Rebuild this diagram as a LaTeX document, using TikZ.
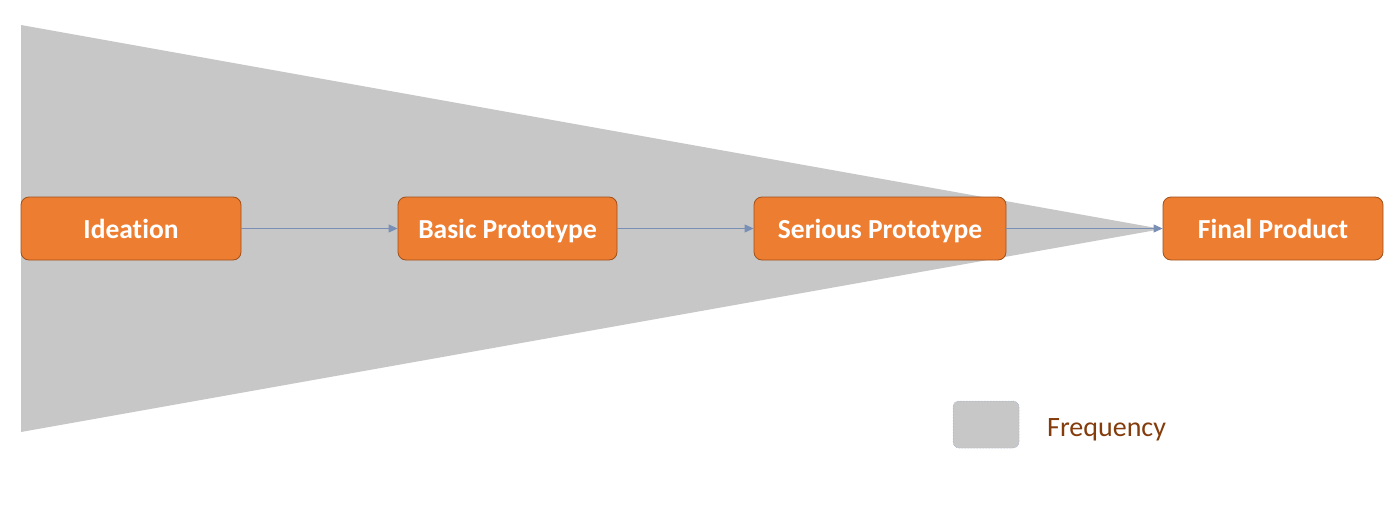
\documentclass[tikz,border=0pt]{standalone}
\usepackage{fontspec}
\setmainfont{Carlito}[Ligatures={NoCommon},Contextuals={NoAlternate}]
\usetikzlibrary{arrows.meta}
\definecolor{funnel}{RGB}{199,199,199}
\definecolor{boxfill}{RGB}{237,125,49}
\definecolor{boxline}{RGB}{160,80,25}
\definecolor{arrowc}{RGB}{122,143,182}
\definecolor{legtext}{RGB}{132,60,12}
\tikzset{
  stagebox/.style={draw=boxline, line width=0.8pt, fill=boxfill, rounded corners=8pt,
    minimum height=63pt, inner sep=0pt, text height=21pt, text depth=2pt, text=white,
    font=\fontsize{27.5}{32}\selectfont\bfseries},
  flow/.style={draw=arrowc, line width=1pt, -{Triangle[length=9pt,width=8pt]}}
}
\begin{document}
\begin{tikzpicture}[x=1pt,y=-1pt]
\useasboundingbox (0,0) rectangle (1400,530);
% funnel
\fill[funnel] (21,25) -- (1162,229) -- (21,432) -- cycle;
% stages
\node[stagebox, minimum width=220pt] (ide) at (131,228.5) {Ideation};
\node[stagebox, minimum width=219pt] (bas) at (507.5,228.5) {Basic Prototype};
\node[stagebox, minimum width=252pt] (ser) at (880,228.5) {Serious Prototype};
\node[stagebox, minimum width=220pt] (fin) at (1273,228.5) {Final Product};
\draw[flow] (ide) -- (bas);
\draw[flow] (bas) -- (ser);
\draw[flow] (ser) -- (fin);
% legend
\node[draw=arrowc!80, line width=0.5pt, densely dotted, fill=funnel, rounded corners=6pt,
  minimum width=66pt, minimum height=47pt, inner sep=0pt] (leg) at (986,424.5) {};
\node[anchor=base west, text=legtext, font=\fontsize{28}{32}\selectfont, inner sep=0pt] (legt) at (1047,436) {Frequency};
\end{tikzpicture}
\end{document}
